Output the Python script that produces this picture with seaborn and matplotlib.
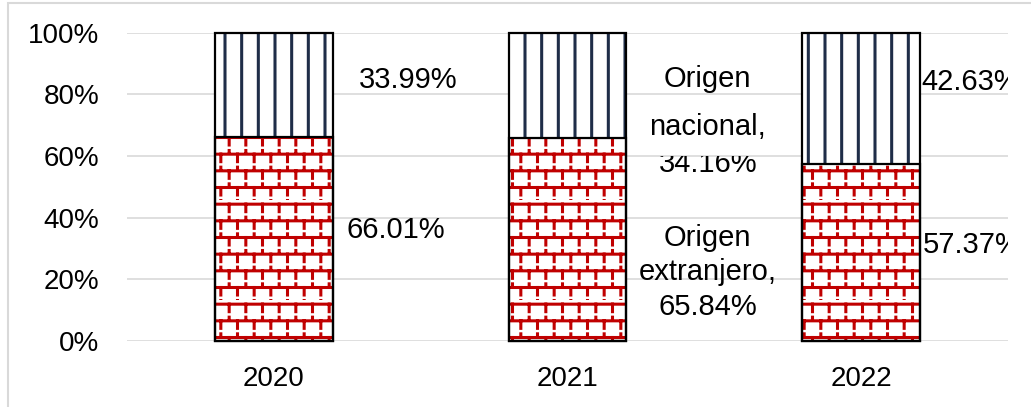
import matplotlib
matplotlib.use("Agg")
import matplotlib.pyplot as plt
import matplotlib.hatch as mhatch
from matplotlib.path import Path
from matplotlib.patches import Rectangle
from matplotlib.transforms import Bbox, TransformedBbox
from matplotlib.ticker import FuncFormatter
import pandas as pd
import seaborn as sns

# Share of origin per year (percent)
years = ["2020", "2021", "2022"]
extranjero = [66.01, 65.84, 57.37]
nacional = [33.99, 34.16, 42.63]
y_ticks = [0, 20, 40, 60, 80, 100]

RED = "#c00000"
NAVY = "#1f2d48"
GRID = "#d9d9d9"


class BrickHatch(mhatch.HatchPatternBase):
    """Brick texture: horizontal courses with staggered vertical joints."""

    def __init__(self, hatch, density):
        self.num_rows = (hatch.count("-") + hatch.count("+")) * density
        n = self.num_rows
        self.num_vertices = (2 * n + 4 * n * n) if n else 0

    def set_vertices_and_codes(self, vertices, codes):
        n = self.num_rows
        step = 1.0 / n
        k = 0
        for r in range(n):
            y = (r + 0.75) * step
            vertices[k] = (0.0, y)
            vertices[k + 1] = (1.0, y)
            codes[k] = Path.MOVETO
            codes[k + 1] = Path.LINETO
            k += 2
            shift = 0.5 * (r % 2)
            for c in range(n):
                # joint hanging below the course
                x = (c + 0.25 + shift) * step
                vertices[k] = (x, y)
                vertices[k + 1] = (x, y - 0.45 * step)
                codes[k] = Path.MOVETO
                codes[k + 1] = Path.LINETO
                # short stub between courses
                vertices[k + 2] = (x, y - 0.78 * step)
                vertices[k + 3] = (x, y - 0.9 * step)
                codes[k + 2] = Path.MOVETO
                codes[k + 3] = Path.LINETO
                k += 4


# '-' draws the brick texture instead of plain horizontal lines
mhatch._hatch_types[mhatch._hatch_types.index(mhatch.HorizontalHatch)] = BrickHatch

sns.set_style("white")
plt.rcParams["font.family"] = ["Liberation Sans", "DejaVu Sans"]
plt.rcParams["hatch.linewidth"] = 2.2

df = pd.DataFrame({"anio": years, "extranjero": extranjero, "nacional": nacional})
df["total"] = df["extranjero"] + df["nacional"]

W, H = 1031, 407
fig = plt.figure(figsize=(W / 100, H / 100), dpi=100)
ax = fig.add_axes([127 / W, 1 - 340.7 / H, (1008 - 127) / W, (340.7 - 32.7) / H])

common = dict(data=df, x="anio", width=0.4, errorbar=None, ax=ax)
# textured fills
sns.barplot(y="total", color="white", edgecolor=NAVY, linewidth=0, hatch="|", **common)
sns.barplot(y="extranjero", color="white", edgecolor=RED, linewidth=0, hatch="-", **common)
# black outlines of both segments
sns.barplot(y="total", fill=False, color="black", edgecolor="black", linewidth=1.6, **common)
sns.barplot(y="extranjero", fill=False, color="black", edgecolor="black", linewidth=1.6, **common)
for p in ax.patches:
    p.set_clip_on(False)

ax.set_ylim(0, 100)
ax.set_xlim(-0.5, 2.5)
ax.set_yticks(y_ticks)
ax.yaxis.set_major_formatter(FuncFormatter(lambda v, _: f"{v:.0f}%"))
ax.set_xlabel("")
ax.set_ylabel("")
ax.yaxis.grid(True, color=GRID, linewidth=1.2)
ax.xaxis.grid(False)
ax.set_axisbelow(True)
for s in ax.spines.values():
    s.set_visible(False)
ax.tick_params(axis="y", length=0, pad=20, labelsize=20, labelcolor="black")
ax.tick_params(axis="x", length=0, pad=18, labelsize=20, labelcolor="black")


def fmt(v):
    return f"{v:.2f}%"


def put(i, dx, y, s, ha="center", clip_top=100):
    t = ax.text(i + dx, y, s, ha=ha, va="baseline", fontsize=21, color="black",
                clip_on=True)
    t.set_clip_box(TransformedBbox(Bbox([[-0.5, 0], [2.5, clip_top]]), ax.transData))


put(0, 0.458, 82.2, fmt(nacional[0]))
put(0, 0.416, 33.25, fmt(extranjero[0]), clip_top=40)
put(1, 0.478, 82.3, "Origen")
put(1, 0.478, 66.8, "nacional,")
put(1, 0.478, 54.9, fmt(nacional[1]), clip_top=60)
put(1, 0.478, 30.7, "Origen")
put(1, 0.478, 19.7, "extranjero,")
put(1, 0.478, 8.35, fmt(extranjero[1]))
put(2, 0.206, 81.4, fmt(nacional[2]), ha="left")
put(2, 0.211, 28.4, fmt(extranjero[2]), ha="left")

# light frame around the chart area
fig.patches.append(Rectangle((8.3 / W, -0.05), 1.0, 1.05 - 3.3 / H,
                             transform=fig.transFigure, fill=False,
                             edgecolor=GRID, linewidth=1.5))

fig.savefig("out.png", dpi=100)
